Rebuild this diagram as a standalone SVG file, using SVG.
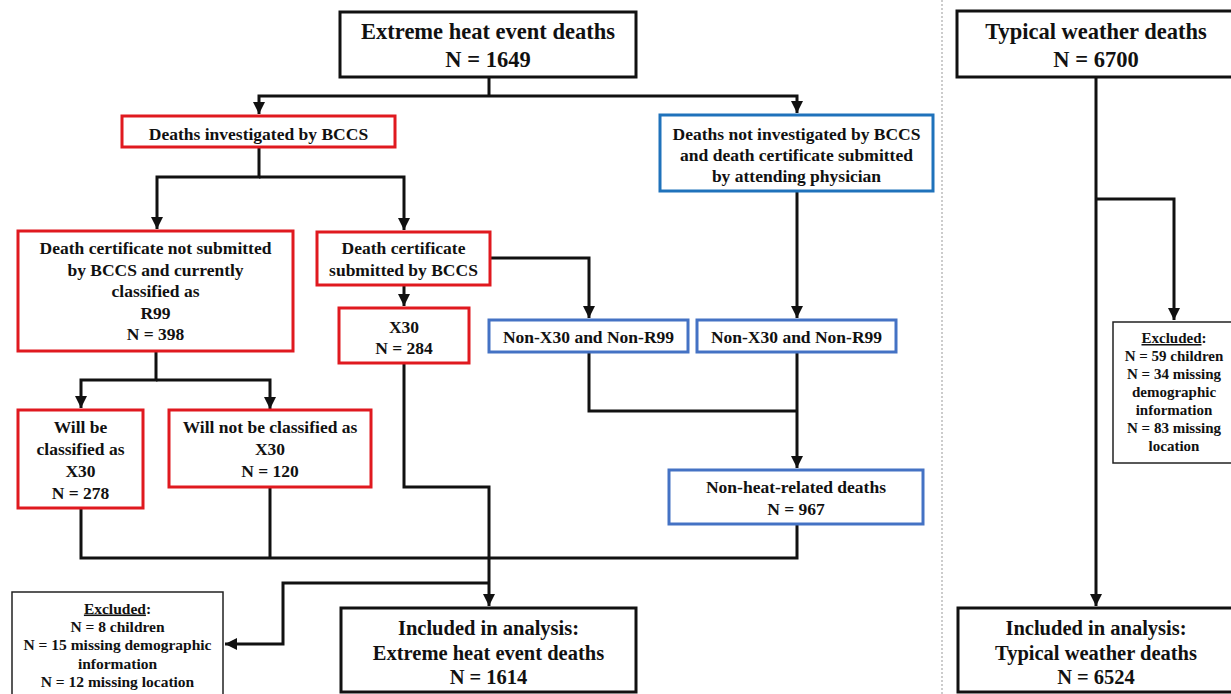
<svg xmlns="http://www.w3.org/2000/svg" width="1231" height="694" viewBox="0 0 1231 694">
<style>
  text { font-family: "Liberation Serif", "Times New Roman", serif; font-weight: bold; fill: #111; text-anchor: middle; }
  .big { font-size: 22.5px; }
  .mid { font-size: 20.5px; }
  .t { font-size: 17.5px; }
  .s { font-size: 15.5px; }
  .xs { font-size: 15px; }
  .blk { fill: #fff; stroke: #111; stroke-width: 3; }
  .red { fill: #fff; stroke: #e0191f; stroke-width: 3; }
  .blue { fill: #fff; stroke: #4472c4; stroke-width: 3; }
  .blue2 { fill: #fff; stroke: #1f72bb; stroke-width: 3; }
  .thin { fill: #fff; stroke: #222; stroke-width: 1.5; }
  .conn path { fill: none; stroke: #111; stroke-width: 3; }
  .u { text-decoration: underline; }
</style>
<defs>
  <marker id="arr" markerUnits="userSpaceOnUse" markerWidth="12" markerHeight="12" refX="10" refY="5" orient="auto" viewBox="0 0 10 10">
    <path d="M0,0 L10,5 L0,10 z" fill="#111"/>
  </marker>
</defs>
<rect width="1231" height="694" fill="#fff"/>
<line x1="942" y1="0" x2="942" y2="694" stroke="#999" stroke-width="1" stroke-dasharray="2,2"/>

<g class="conn" id="connectors">
  <path d="M489,78 V96"/>
  <path d="M489,96 H259 V114" marker-end="url(#arr)"/>
  <path d="M489,96 H797 V113" marker-end="url(#arr)"/>
  <path d="M259,148 V177 H157 V229" marker-end="url(#arr)"/>
  <path d="M259,177 H404 V230" marker-end="url(#arr)"/>
  <path d="M404,286 V306" marker-end="url(#arr)"/>
  <path d="M491,258 H589 V318" marker-end="url(#arr)"/>
  <path d="M797,192 V318" marker-end="url(#arr)"/>
  <path d="M156,352 V380 H81 V408" marker-end="url(#arr)"/>
  <path d="M156,380 H270 V409" marker-end="url(#arr)"/>
  <path d="M589,353 V411 H797"/>
  <path d="M797,353 V468" marker-end="url(#arr)"/>
  <path d="M81,509 V558 H797 V525"/>
  <path d="M270,488 V558"/>
  <path d="M404,364 V487 H489 V606" marker-end="url(#arr)"/>
  <path d="M489,583 H283 V644 H225" marker-end="url(#arr)"/>
  <path d="M1096,78 V606" marker-end="url(#arr)"/>
  <path d="M1096,199 H1174 V320" marker-end="url(#arr)"/>
</g>

<g id="extreme-heat">
  <rect class="blk" x="340" y="12" width="296" height="65"/>
  <text class="big" x="488" y="39">Extreme heat event deaths</text>
  <text class="big" x="488" y="67">N = 1649</text>
</g>
<g id="investigated">
  <rect class="red" x="122" y="116" width="273" height="31"/>
  <text class="t" x="258.5" y="140">Deaths investigated by BCCS</text>
</g>
<g id="not-investigated">
  <rect class="blue2" x="660" y="115" width="273" height="76"/>
  <text class="t" x="796.5" y="140">Deaths not investigated by BCCS</text>
  <text class="t" x="796.5" y="161">and death certificate submitted</text>
  <text class="t" x="796.5" y="182">by attending physician</text>
</g>
<g id="not-submitted">
  <rect class="red" x="18" y="231" width="275" height="120"/>
  <text class="t" x="155.5" y="254">Death certificate not submitted</text>
  <text class="t" x="155.5" y="275.5">by BCCS and currently</text>
  <text class="t" x="155.5" y="297">classified as</text>
  <text class="t" x="155.5" y="318.5">R99</text>
  <text class="t" x="155.5" y="340">N = 398</text>
</g>
<g id="submitted">
  <rect class="red" x="317" y="232" width="173" height="53"/>
  <text class="t" x="403.5" y="254">Death certificate</text>
  <text class="t" x="403.5" y="276">submitted by BCCS</text>
</g>
<g id="x30">
  <rect class="red" x="339" y="308" width="130" height="55"/>
  <text class="t" x="404" y="333">X30</text>
  <text class="t" x="404" y="354">N = 284</text>
</g>
<g id="non-x30-1">
  <rect class="blue" x="489" y="320" width="199" height="32"/>
  <text class="t" x="588.5" y="343">Non-X30 and Non-R99</text>
</g>
<g id="non-x30-2">
  <rect class="blue" x="697" y="320" width="199" height="32"/>
  <text class="t" x="796.5" y="343">Non-X30 and Non-R99</text>
</g>
<g id="non-heat">
  <rect class="blue" x="669" y="470" width="254" height="54"/>
  <text class="t" x="796" y="493">Non-heat-related deaths</text>
  <text class="t" x="796" y="515">N = 967</text>
</g>
<g id="will-be">
  <rect class="red" x="18" y="410" width="125" height="98"/>
  <text class="t" x="80.5" y="433">Will be</text>
  <text class="t" x="80.5" y="455">classified as</text>
  <text class="t" x="80.5" y="477">X30</text>
  <text class="t" x="80.5" y="499">N = 278</text>
</g>
<g id="will-not">
  <rect class="red" x="169" y="410" width="202" height="77"/>
  <text class="t" x="270" y="433">Will not be classified as</text>
  <text class="t" x="270" y="455">X30</text>
  <text class="t" x="270" y="477">N = 120</text>
</g>
<g id="excluded-left">
  <rect class="thin" x="12" y="592" width="211" height="110"/>
  <text class="s" x="117.5" y="613.5"><tspan class="u">Excluded</tspan>:</text>
  <text class="s" x="117.5" y="632">N = 8 children</text>
  <text class="s" x="117.5" y="650">N = 15 missing demographic</text>
  <text class="s" x="117.5" y="668.5">information</text>
  <text class="s" x="117.5" y="687">N = 12 missing location</text>
</g>
<g id="included-left">
  <rect class="blk" x="341" y="608" width="295" height="84"/>
  <text class="mid" x="488.5" y="634.5">Included in analysis:</text>
  <text class="mid" x="488.5" y="659.5">Extreme heat event deaths</text>
  <text class="mid" x="488.5" y="684">N = 1614</text>
</g>

<g id="typical">
  <rect class="blk" x="957" y="11" width="280" height="66"/>
  <text class="big" x="1096" y="39">Typical weather deaths</text>
  <text class="big" x="1096" y="67">N = 6700</text>
</g>
<g id="excluded-right">
  <rect class="thin" x="1113" y="322" width="124" height="141"/>
  <text class="xs" x="1174" y="343"><tspan class="u">Excluded</tspan>:</text>
  <text class="xs" x="1174" y="361">N = 59 children</text>
  <text class="xs" x="1174" y="379">N = 34 missing</text>
  <text class="xs" x="1174" y="397">demographic</text>
  <text class="xs" x="1174" y="415">information</text>
  <text class="xs" x="1174" y="433">N = 83 missing</text>
  <text class="xs" x="1174" y="451">location</text>
</g>
<g id="included-right">
  <rect class="blk" x="958" y="608" width="278" height="84"/>
  <text class="mid" x="1096" y="634.5">Included in analysis:</text>
  <text class="mid" x="1096" y="659.5">Typical weather deaths</text>
  <text class="mid" x="1096" y="684">N = 6524</text>
</g>
</svg>
